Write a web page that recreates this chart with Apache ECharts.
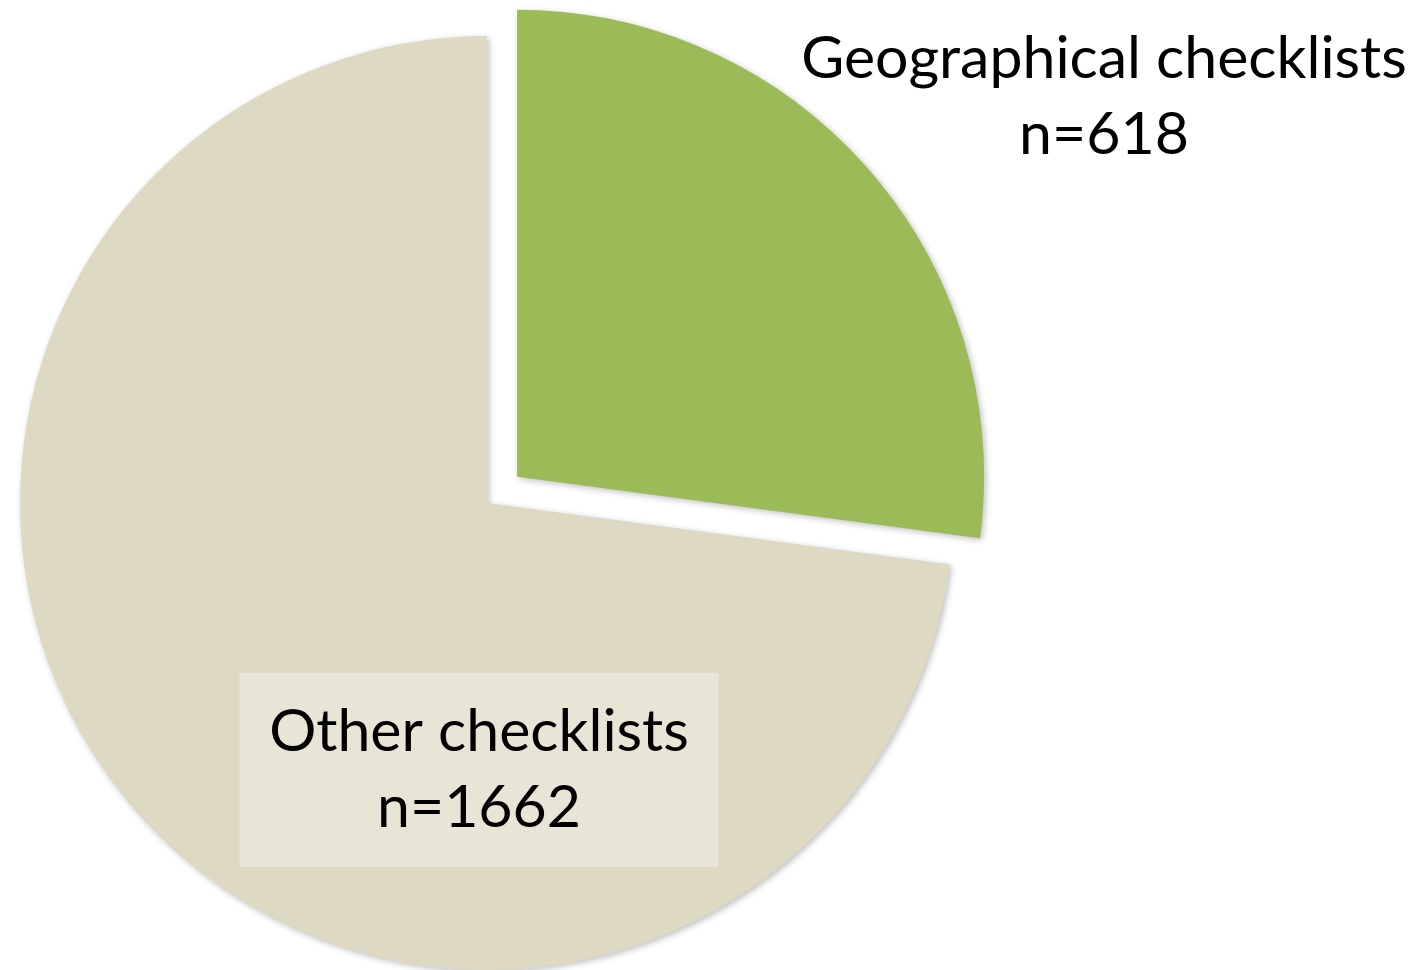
<!DOCTYPE html>
<html lang="en">
<head>
    <meta charset="utf-8">
    <title>Checklists pie</title>
    <script src="https://cdn.jsdelivr.net/npm/echarts@6/dist/echarts.min.js"></script>
    <style>
        html, body { margin: 0; padding: 0; background: #fff; }
        #chart { width: 1428px; height: 970px; }
    </style>
</head>
<body>
<div id="chart"></div>
<script>
    // data
    var names = ['Geographical checklists', 'Other checklists'];
    var counts = [618, 1662];
    var colors = ['#9BBB59', '#DDD9C3'];

    // label anchor points (centre of each label block)
    var labelPos = [[1104, 97], [479, 770]];

    var center = [487, 503];
    var radius = 467;
    var explode = 40;   // pull-out distance of the first slice

    // direction of the first slice's middle, pie starts at 12 o'clock clockwise
    var total = counts[0] + counts[1];
    var midDeg = 90 - (counts[0] / total) * 360 / 2;
    var midRad = midDeg * Math.PI / 180;
    var center2 = [center[0] + explode * Math.cos(midRad), center[1] - explode * Math.sin(midRad)];

    var myChart = echarts.init(document.getElementById('chart'));

    var clear = { color: 'rgba(0,0,0,0)', shadowBlur: 0, shadowColor: 'rgba(0,0,0,0)' };

    // one series per slice so the pulled-out one can have its own centre
    function sliceData(keep) {
        return names.map(function (n, i) {
            var item = { name: n, value: counts[i] };
            if (i === keep) {
                item.itemStyle = { color: colors[i] };
                if (i === 1) {
                    item.label = {
                        backgroundColor: '#E8E5D7',
                        width: 479,
                        padding: [18, 0, 24, 0]
                    };
                }
            } else {
                item.itemStyle = clear;
                item.label = { show: false };
            }
            return item;
        });
    }

    function pieSeries(c, keep) {
        return {
            type: 'pie',
            center: c,
            radius: radius,
            startAngle: 90,
            clockwise: true,
            selectedMode: false,
            emphasis: { scale: false, disabled: true },
            itemStyle: {
                shadowBlur: 6,
                shadowColor: 'rgba(0,0,0,0.25)',
                shadowOffsetX: 2,
                shadowOffsetY: 2
            },
            label: {
                show: true,
                position: 'inside',
                formatter: '{b}\nn={c}',
                color: '#000',
                fontFamily: 'Lato',
                fontSize: 59,
                lineHeight: 76,
                align: 'center'
            },
            labelLine: { show: false },
            labelLayout: function (params) {
                var p = labelPos[params.dataIndex];
                return { x: p[0], y: p[1], align: 'center', verticalAlign: 'middle' };
            },
            data: sliceData(keep)
        };
    }

    var option = {
        animation: false,
        series: [pieSeries(center, 1), pieSeries(center2, 0)]
    };

    myChart.setOption(option);
</script>
</body>
</html>
